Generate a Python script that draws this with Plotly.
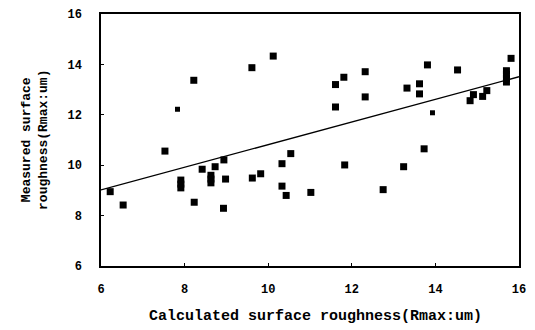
import plotly.graph_objects as go

# Measured data (calculated vs measured Rmax, um)
calc_x = [6.22, 6.53, 7.53, 7.91, 7.91, 7.91, 8.22, 8.23, 8.42, 8.63, 8.63, 8.63,
          8.73, 8.94, 8.98, 8.93, 9.61, 9.62, 9.82, 10.12, 10.33, 10.33, 10.43, 10.54,
          11.02, 11.61, 11.61, 11.81, 11.83, 12.32, 12.32, 12.75, 13.24, 13.32, 13.62,
          13.62, 13.73, 13.81, 14.53, 14.83, 14.91, 15.13, 15.23, 15.7, 15.7, 15.7,
          15.7, 15.81]
meas_y = [8.95, 8.42, 10.56, 9.1, 9.25, 9.41, 13.37, 8.53, 9.84, 9.3, 9.45, 9.6,
          9.94, 10.21, 9.45, 8.29, 13.87, 9.49, 9.66, 14.33, 10.06, 9.17, 8.80, 10.46,
          8.92, 13.2, 12.31, 13.49, 10.01, 13.71, 12.71, 9.03, 9.94, 13.06, 13.23,
          12.83, 10.65, 13.98, 13.78, 12.56, 12.80, 12.73, 12.96, 13.3, 13.45, 13.6,
          13.75, 14.24]

# Points drawn with smaller markers
small_x = [7.83, 13.93]
small_y = [12.22, 12.08]

# Regression line endpoints
trend_x = [6.0, 16.0]
trend_y = [9.02, 13.51]

x_ticks = [6, 8, 10, 12, 14, 16]
y_ticks = [6, 8, 10, 12, 14, 16]

FONT = "Liberation Mono"

fig = go.Figure()
fig.add_trace(go.Scatter(x=trend_x, y=trend_y, mode="lines",
                         line=dict(color="black", width=1.3), showlegend=False))
fig.add_trace(go.Scatter(x=calc_x, y=meas_y, mode="markers",
                         marker=dict(symbol="square", size=7, color="black"),
                         showlegend=False))
fig.add_trace(go.Scatter(x=small_x, y=small_y, mode="markers",
                         marker=dict(symbol="square", size=5, color="black"),
                         showlegend=False))

axis_common = dict(showgrid=False, zeroline=False, showline=True, mirror=True,
                   linecolor="black", linewidth=1.5, ticks="inside", ticklen=3,
                   tickcolor="black", automargin=False,
                   tickfont=dict(family=FONT, size=12, color="black", weight="bold"))

fig.update_xaxes(range=[6, 16], tickvals=x_ticks, ticktext=[str(v) for v in x_ticks],
                 ticklabelstandoff=11, **axis_common)
fig.update_yaxes(range=[6, 16], tickvals=y_ticks, ticktext=[str(v) for v in y_ticks],
                 ticklabelstandoff=15, **axis_common)

fig.add_annotation(text="Calculated surface roughness(Rmax:um)", xref="paper", yref="paper",
                   x=0.514, y=-0.202, xanchor="center", yanchor="middle", showarrow=False,
                   font=dict(family=FONT, size=15, color="black", weight="bold"))
fig.add_annotation(text="Measured surface<br>roughness(Rmax:um)", xref="paper", yref="paper",
                   x=-0.158, y=0.5, xanchor="center", yanchor="middle", showarrow=False,
                   textangle=-90,
                   font=dict(family=FONT, size=13, color="black", weight="bold"))

fig.update_layout(width=535, height=330, margin=dict(l=101, r=16, t=14, b=64),
                  paper_bgcolor="white", plot_bgcolor="white")

fig.write_html("out.html", config={"displayModeBar": False},
               post_script="document.body.style.margin='0';")
